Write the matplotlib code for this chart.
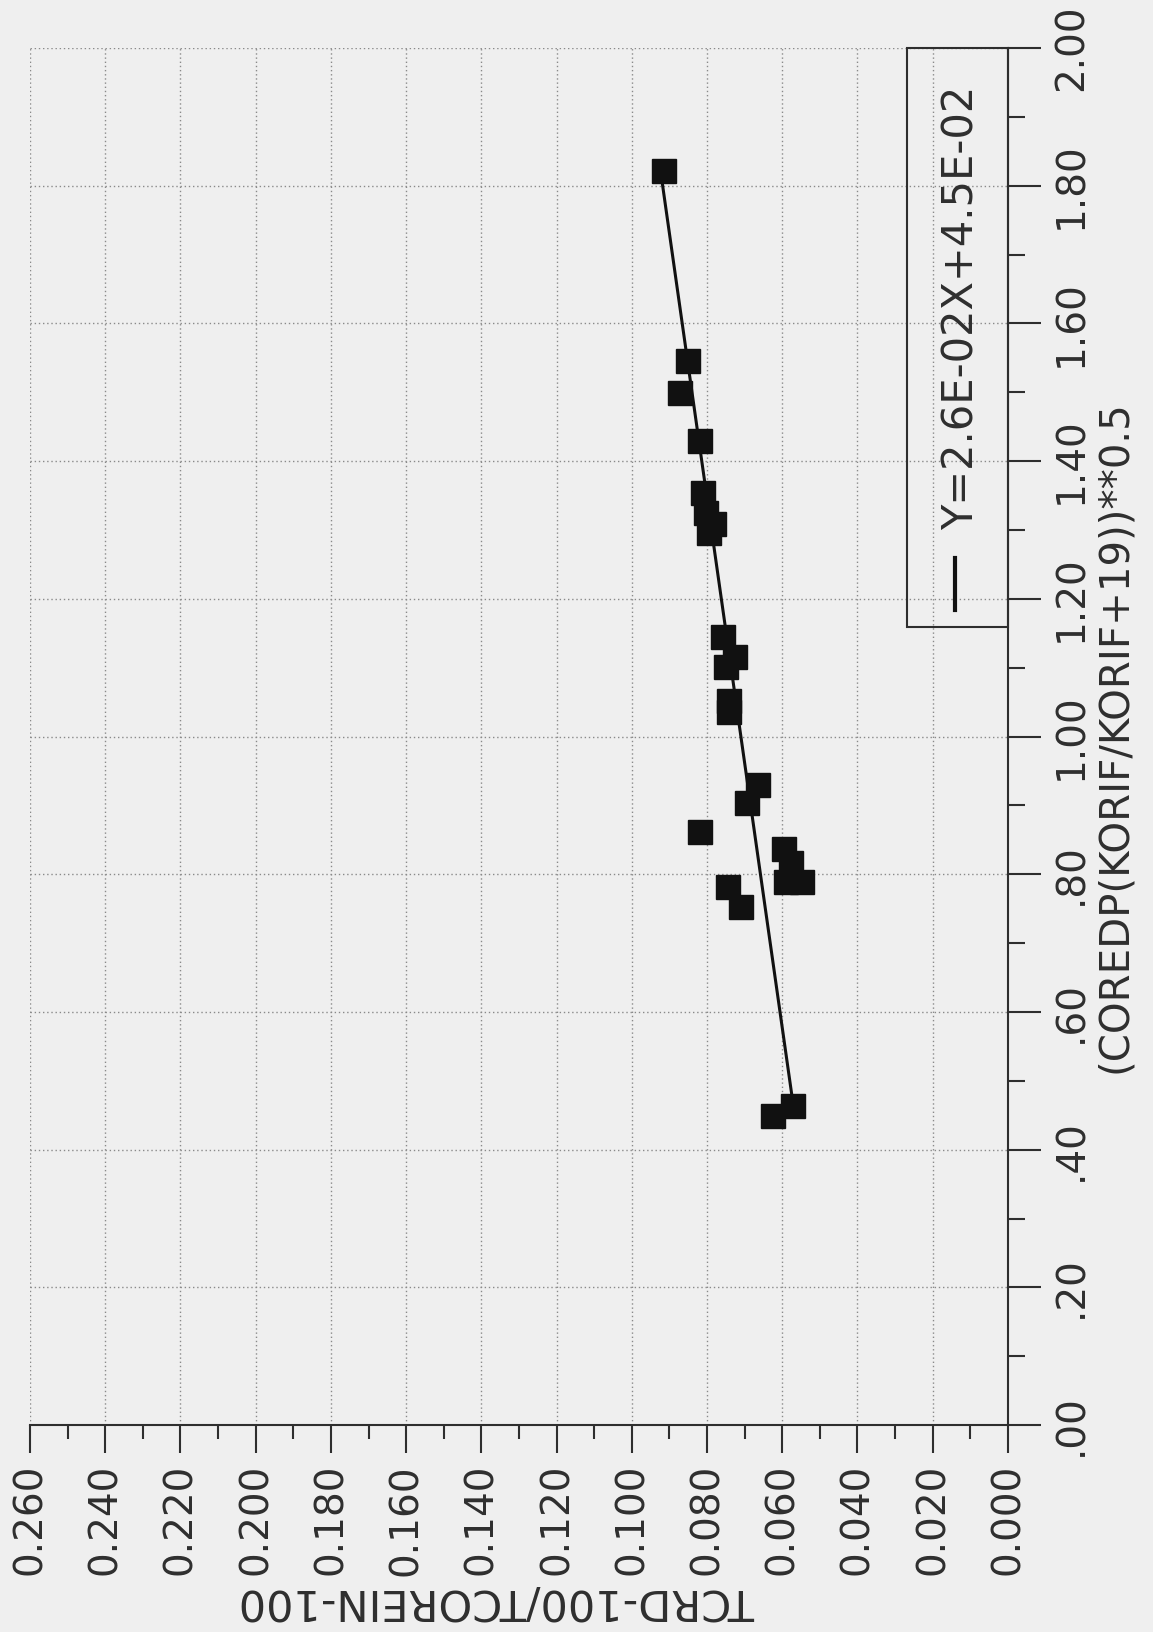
import numpy as np
import matplotlib.pyplot as plt
from matplotlib.patches import Rectangle
from matplotlib.ticker import MultipleLocator, FuncFormatter

# one entry per test run
sqrt_dp = [1.822, 1.546, 1.499, 1.429, 1.354, 1.325, 1.309, 1.296,
           1.144, 1.115, 1.101, 1.052, 1.035, 0.929, 0.904, 0.861,
           0.836, 0.817, 0.788, 0.788, 0.781, 0.752, 0.449, 0.464]
temp_ratio = [0.0915, 0.0850, 0.0871, 0.0819, 0.0811, 0.0803, 0.0781, 0.0795,
              0.0758, 0.0726, 0.0749, 0.0742, 0.0742, 0.0664, 0.0695, 0.0818,
              0.0596, 0.0576, 0.0590, 0.0547, 0.0744, 0.0709, 0.0625, 0.0571]

# least squares fit Y = a*X + b
slope = 2.6e-02
intercept = 4.5e-02

x_label = '(COREDP(KORIF/KORIF+19))**0.5'
y_label = 'TCRD-100/TCOREIN-100'

ink = '#2e2e2e'
paper = '#efefef'

# page is printed sideways: X runs up the right edge, Y runs right-to-left
fig = plt.figure(figsize=(11.53, 16.32), dpi=100, facecolor=paper)
ax = fig.add_axes([0.0260, 0.1268, 0.8482, 0.8438], facecolor=paper)

ax.set_xlim(0.26, 0.0)
ax.set_ylim(0.0, 2.0)

ax.xaxis.set_major_locator(MultipleLocator(0.02))
ax.xaxis.set_minor_locator(MultipleLocator(0.01))
ax.yaxis.set_major_locator(MultipleLocator(0.2))
ax.yaxis.set_minor_locator(MultipleLocator(0.1))
ax.xaxis.set_major_formatter(FuncFormatter(lambda v, p: f'{abs(v):.3f}'))
ax.yaxis.set_major_formatter(
    FuncFormatter(lambda v, p: f'{v:.2f}'[1:] if v < 1 else f'{v:.2f}'))
ax.yaxis.tick_right()

for side in ['left', 'top']:
    ax.spines[side].set_visible(False)
for side in ['right', 'bottom']:
    ax.spines[side].set_color(ink)
    ax.spines[side].set_linewidth(1.5)

ax.tick_params(axis='x', which='major', direction='out', length=20, width=1.5,
               pad=8, labelsize=28, labelrotation=90, colors=ink)
ax.tick_params(axis='x', which='minor', direction='out', length=10, width=1.5,
               colors=ink)
ax.tick_params(axis='y', which='major', direction='out', length=24, width=1.5,
               pad=8, labelsize=28, labelrotation=90, colors=ink)
ax.tick_params(axis='y', which='minor', direction='out', length=12, width=1.5,
               colors=ink)
plt.setp(ax.get_yticklabels(), va='center')

ax.grid(True, which='major', linestyle=(0, (1, 2)), color='#8a8a8a', lw=1.0)

# measured points
ax.plot(temp_ratio, sqrt_dp, 's', ms=17, color='#111111', zorder=3)

# fitted line over the data range
xs = np.array([min(sqrt_dp), max(sqrt_dp)])
ax.plot(slope * xs + intercept, xs, color='#111111', lw=2.2, zorder=3)

# legend box
ax.add_patch(Rectangle((0.8967, 0.5795), 0.1033, 0.4205, transform=ax.transAxes,
                       fill=False, ec=ink, lw=1.5, clip_on=False, zorder=4))
ax.plot([0.9458, 0.9458], [0.5919, 0.6296], transform=ax.transAxes,
        color='#111111', lw=3, clip_on=False, zorder=4)
ax.text(0.953, 0.650, f'Y={slope:.1E}X+{intercept:.1E}', rotation=90,
        transform=ax.transAxes, ha='center', va='bottom', fontsize=30,
        color=ink)

ax.text(1.109, 0.5, x_label, rotation=90, transform=ax.transAxes,
        ha='center', va='center', fontsize=29, color=ink)
ax.text(0.4775, -0.128, y_label, rotation=180, transform=ax.transAxes,
        ha='center', va='center', fontsize=31, color=ink)

fig.savefig('out.png', dpi=100, facecolor=paper)
